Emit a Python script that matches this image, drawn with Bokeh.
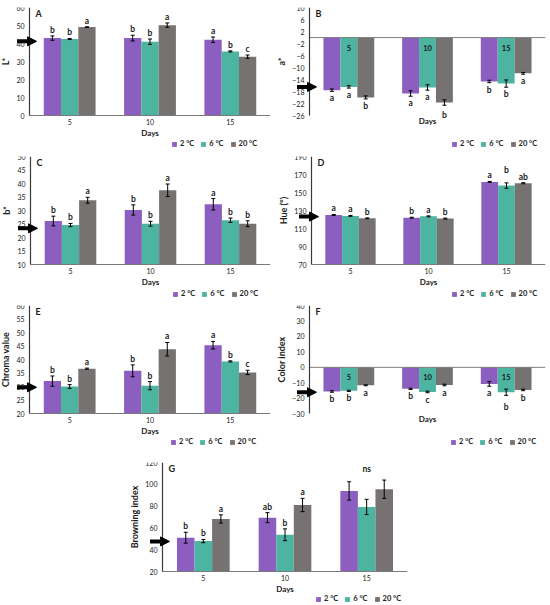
from bokeh.plotting import figure
from bokeh.models import (ColumnDataSource, Range1d, FixedTicker, Label,
                          LabelSet, Legend, LegendItem, Spacer, Arrow,
                          NormalHead)
from bokeh.transform import dodge
from bokeh.layouts import column, row
from bokeh.core.properties import value
from bokeh.embed import file_html
from bokeh.resources import INLINE

# ---------------- data ----------------
days = ["5", "10", "15"]
temps = ["2 °C", "6 °C", "20 °C"]

# rows: 2 °C, 6 °C, 20 °C ; columns: day 5, 10, 15
L_mean = [[43.0, 43.0, 42.1], [42.5, 41.0, 35.6], [49.1, 50.2, 32.7]]
L_err = [[1.2, 1.6, 1.5], [0.3, 1.5, 0.3], [0.2, 1.2, 0.9]]
L_sig = [["b", "b", "a"], ["b", "b", "b"], ["a", "a", "c"]]
L_initial = 41.2

a_mean = [[-17.5, -18.6, -14.6], [-16.4, -16.6, -15.3], [-19.9, -21.6, -11.9]]
a_err = [[0.4, 0.9, 0.4], [0.4, 0.9, 1.2], [0.5, 0.9, 0.3]]
a_sig = [["a", "a", "b"], ["a", "a", "b"], ["b", "b", "a"]]
a_initial = -16.4

b_mean = [[26.1, 30.2, 32.3], [24.6, 25.1, 26.4], [33.8, 37.5, 25.1]]
b_err = [[1.8, 1.9, 2.1], [0.6, 0.9, 0.8], [1.1, 2.3, 1.1]]
b_sig = [["b", "b", "a"], ["b", "b", "b"], ["a", "a", "b"]]
b_initial = 23.4

hue_mean = [[125.0, 122.0, 161.8], [124.0, 123.5, 157.7], [121.3, 121.0, 160.3]]
hue_err = [[0.6, 0.5, 0.5], [0.5, 0.5, 3.0], [0.5, 0.5, 0.6]]
hue_sig = [["a", "b", "a"], ["a", "a", "b"], ["b", "b", "ab"]]
hue_initial = 123.2

chroma_mean = [[32.0, 35.8, 45.3], [30.0, 30.3, 39.3], [36.6, 43.8, 35.2]]
chroma_err = [[1.9, 2.2, 1.4], [0.7, 1.5, 0.2], [0.2, 2.5, 0.8]]
chroma_sig = [["b", "b", "a"], ["b", "b", "b"], ["a", "a", "c"]]
chroma_initial = 29.7

ci_mean = [[-15.6, -13.9, -10.7], [-15.2, -15.9, -16.1], [-11.6, -11.4, -14.6]]
ci_err = [[0.5, 0.4, 1.5], [0.4, 0.5, 2.0], [0.3, 0.5, 0.5]]
ci_sig = [["b", "b", "a"], ["b", "c", "b"], ["a", "a", "b"]]
ci_initial = -16.1

bi_mean = [[51.0, 69.4, 93.9], [47.9, 53.7, 79.2], [68.2, 81.0, 95.5]]
bi_err = [[5.0, 4.6, 8.4], [1.5, 5.4, 7.0], [3.8, 6.1, 8.4]]
bi_sig = [["b", "ab", ""], ["b", "b", ""], ["a", "a", ""]]
bi_ns_day = "15"
bi_ns_y = 113.9
bi_initial = 47.6

# ---------------- style ----------------
COLORS = ["#8C5EBF", "#4CB4A0", "#777272"]
FONT = "Lato"
TXT = "#1a1a1a"
BAR_W = 0.215
OFFS = [-BAR_W, 0.0, BAR_W]
xpos = [i + 0.5 for i in range(len(days))]   # category centres
LEG_W = 87        # approximate legend width in px


def make_panel(letter, ylabel, means, errs, sigs, yr, step, arrow_y,
               W, H, axis_x, frame_r, top, axis_b, leg_end,
               negative=False, nudges=None, ns=None):
    """Geometry in figure pixels: axis_x, frame_r (x); top (y of yr[1])
    and axis_b (y of yr[0]) measured from the figure top."""
    cat_px = (frame_r - axis_x) / 3.0
    x0 = -axis_x / cat_px
    ppu = (axis_b - top) / float(yr[1] - yr[0])
    below = H - axis_b
    y0 = yr[0] - below / ppu

    p = figure(x_range=Range1d(x0, 3.0), y_range=Range1d(y0, yr[1]),
               width=W, height=H, output_backend="svg",
               toolbar_location=None, title=None,
               min_border_left=0, min_border_right=W - frame_r,
               min_border_top=top, min_border_bottom=0)
    p.outline_line_color = None
    p.grid.visible = False
    p.background_fill_color = "white"
    p.border_fill_color = "white"

    # y axis
    ya = p.yaxis[0]
    ya.fixed_location = 0
    ya.bounds = (yr[0], yr[1])
    ya.ticker = FixedTicker(ticks=list(range(yr[0], yr[1] + 1, step)))
    ya.major_tick_out = 0
    ya.major_tick_in = 0
    ya.major_tick_line_color = None
    ya.minor_tick_line_color = None
    ya.axis_line_color = "#3a3a3a"
    ya.axis_line_width = 1.2
    ya.major_label_text_font = FONT
    ya.major_label_text_font_size = "7px"
    ya.major_label_text_color = TXT
    ya.major_label_standoff = 5
    ya.axis_label = ylabel
    ya.axis_label_text_font = FONT
    ya.axis_label_text_font_size = "9px"
    ya.axis_label_text_font_style = "bold"
    ya.axis_label_text_color = TXT
    ya.axis_label_standoff = 2

    # x axis
    xa = p.xaxis[0]
    xa.fixed_location = yr[0]
    xa.bounds = (0, 3)
    xa.ticker = FixedTicker(ticks=xpos)
    xa.major_label_overrides = {xp: d for xp, d in zip(xpos, days)}
    xa.major_tick_out = 0
    xa.major_tick_in = 0
    xa.major_tick_line_color = None
    xa.minor_tick_line_color = None
    xa.major_label_text_font = FONT
    xa.major_label_text_font_size = "7px"
    xa.major_label_text_color = TXT
    xa.major_label_standoff = 3
    xa.axis_label = "Days"
    xa.axis_label_text_font = FONT
    xa.axis_label_text_font_size = "8px"
    xa.axis_label_text_font_style = "bold"
    xa.axis_label_text_color = TXT
    xa.axis_label_standoff = 0
    if negative:
        xa.axis_line_color = None
        xa.major_label_text_color = None
    else:
        xa.axis_line_color = "#7a7a7a"

    base = 0 if negative else yr[0]
    items = []
    for k in range(3):
        m = means[k]
        e = errs[k]
        hi = [mi + ei for mi, ei in zip(m, e)]
        lo = [mi - ei for mi, ei in zip(m, e)]
        src = ColumnDataSource(dict(xp=xpos, val=m, hi=hi, lo=lo))
        xk = dodge("xp", OFFS[k])
        r = p.vbar(x=xk, top="val", bottom=base, width=BAR_W, source=src,
                   fill_color=COLORS[k], line_color=None)
        items.append(LegendItem(label=temps[k], renderers=[r]))
        p.segment(x0=xk, x1=xk, y0="lo", y1="hi", source=src,
                  line_color="black", line_width=1)
        p.scatter(x=xk, y="hi", marker="dash", size=4, line_color="black",
                  line_width=1, source=src)
        p.scatter(x=xk, y="lo", marker="dash", size=4, line_color="black",
                  line_width=1, source=src)
        # significance letters; nudges shift single labels (pixels)
        for j in range(3):
            if sigs[k][j] == "":
                continue
            extra = (nudges or {}).get((k, j), 0)
            common = dict(x=xpos[j] + OFFS[k], text=sigs[k][j],
                          text_align="center", text_font=FONT,
                          text_font_size="8.5px", text_font_style="bold",
                          text_color=TXT)
            if negative:
                lbl = Label(y=lo[j], y_offset=-2 - extra,
                            text_baseline="top", **common)
            else:
                lbl = Label(y=hi[j], y_offset=1 + extra,
                            text_baseline="bottom", **common)
            p.add_layout(lbl)

    if negative:
        # zero line, from the y axis to the right end of the categories
        p.segment(x0=0, x1=len(days), y0=0, y1=0, line_color="#7f7f7f",
                  line_width=1)
        csrc = ColumnDataSource(dict(xp=xpos, y=[0] * len(days), t=days))
        p.add_layout(LabelSet(x="xp", y="y", text="t", source=csrc,
                              y_offset=-10, text_align="center",
                              text_baseline="middle", text_font=value(FONT),
                              text_font_size="7.5px", text_font_style="bold",
                              text_color=TXT))

    if ns is not None:
        p.add_layout(Label(x=xpos[days.index(ns[0])], y=ns[1], text="ns",
                           text_align="center", text_baseline="middle",
                           text_font=FONT, text_font_size="8.5px",
                           text_font_style="bold", text_color=TXT))

    # panel letter
    p.add_layout(Label(x=0, x_offset=6, y=yr[1], text=letter,
                       text_baseline="top", text_align="left",
                       text_font=FONT, text_font_size="9px",
                       text_font_style="bold", text_color=TXT))
    # initial-value arrow across the y axis
    p.add_layout(Arrow(x_start=-12.5 / cat_px, y_start=arrow_y,
                       x_end=7.0 / cat_px, y_end=arrow_y,
                       line_width=4, line_color="black",
                       end=NormalHead(size=9, fill_color="black",
                                      line_color="black", line_width=1)))

    leg = Legend(items=items, orientation="horizontal",
                 location=(axis_x + leg_end - LEG_W, max(below - 34, 2)),
                 glyph_width=6, glyph_height=6, label_height=8, label_width=10,
                 label_text_font=FONT, label_text_font_size="7.5px",
                 label_text_font_style="bold", label_text_color=TXT,
                 label_standoff=3, spacing=6, padding=1, margin=0,
                 border_line_color=None, background_fill_alpha=0)
    p.add_layout(leg)
    return p


A = make_panel("A", "L*", L_mean, L_err, L_sig, (0, 60), 10, L_initial,
               275, 150, 29, 270, 7, 115, 229)
B = make_panel("B", "a*", a_mean, a_err, a_sig, (-26, 10), 4, a_initial,
               275, 150, 34, 270, 6, 115, 229,
               negative=True, nudges={(2, 1): 3})
C = make_panel("C", "b*", b_mean, b_err, b_sig, (10, 50), 5, b_initial,
               275, 150, 30, 270, 6, 114, 229)
D = make_panel("D", "Hue (°)", hue_mean, hue_err, hue_sig, (70, 190), 20,
               hue_initial, 275, 150, 36, 270, 6, 114, 227,
               nudges={(1, 2): 7})
E = make_panel("E", "Chroma value", chroma_mean, chroma_err, chroma_sig,
               (20, 60), 5, chroma_initial, 275, 148, 29, 270, 5, 113, 228)
F = make_panel("F", "Color index", ci_mean, ci_err, ci_sig, (-30, 40), 10,
               ci_initial, 275, 148, 34, 270, 4, 113, 228,
               negative=True, nudges={(1, 2): 5})
G = make_panel("G", "Browning index", bi_mean, bi_err, bi_sig, (20, 120), 20,
               bi_initial, 290, 157, 32, 277, 14, 123, 240,
               ns=(bi_ns_day, bi_ns_y))

layout = column(row(A, B), row(C, D), row(E, F),
                row(Spacer(width=130, height=157), G))

open("out.html", "w").write(file_html(layout, INLINE))
